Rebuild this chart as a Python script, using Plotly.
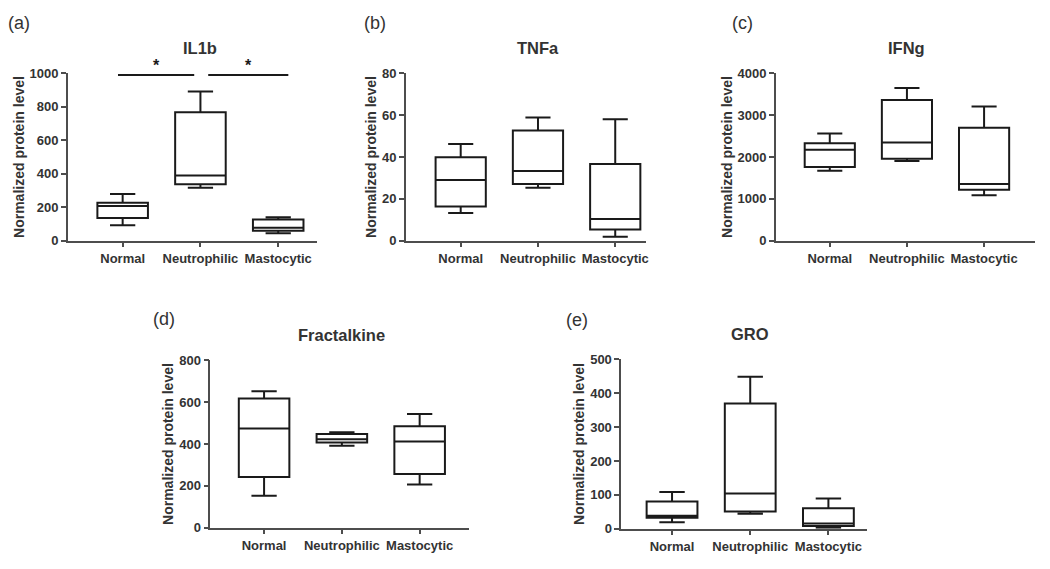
import plotly.graph_objects as go

# the page keeps its 8px body margin, so the figure is 16px smaller than the window
PAD = 8
W, H = 1050 - 2 * PAD, 569 - 2 * PAD

categories = ["Normal", "Neutrophilic", "Mastocytic"]

# box statistics: lower whisker, q1, median, q3, upper whisker
il1b_low = [93, 316, 45]
il1b_q1 = [136, 337, 60]
il1b_med = [207, 390, 78]
il1b_q3 = [227, 767, 126]
il1b_high = [279, 892, 140]

tnfa_low = [13.2, 25.3, 1.9]
tnfa_q1 = [16.3, 27.1, 5.4]
tnfa_med = [29.0, 33.3, 10.4]
tnfa_q3 = [39.9, 52.7, 36.7]
tnfa_high = [46.2, 58.9, 58.1]

ifng_low = [1670, 1903, 1088]
ifng_q1 = [1764, 1957, 1218]
ifng_med = [2174, 2346, 1358]
ifng_q3 = [2330, 3362, 2702]
ifng_high = [2563, 3651, 3208]

fkn_low = [153, 392, 206]
fkn_q1 = [242, 407, 257]
fkn_med = [474, 423, 412]
fkn_q3 = [618, 448, 485]
fkn_high = [652, 456, 544]

gro_low = [19, 44, 3]
gro_q1 = [32, 51, 8]
gro_med = [38, 104, 15]
gro_q3 = [80, 370, 60]
gro_high = [108, 449, 89]

titles = ["IL1b", "TNFa", "IFNg", "Fractalkine", "GRO"]
letters = ["(a)", "(b)", "(c)", "(d)", "(e)"]
y_max = [1000, 80, 4000, 800, 500]
y_step = [200, 20, 1000, 200, 100]

# IL1b significance: pairs compared and the bar height
sig_pairs = [(0, 1), (1, 2)]
sig_level = 990

stats = [
    (il1b_low, il1b_q1, il1b_med, il1b_q3, il1b_high),
    (tnfa_low, tnfa_q1, tnfa_med, tnfa_q3, tnfa_high),
    (ifng_low, ifng_q1, ifng_med, ifng_q3, ifng_high),
    (fkn_low, fkn_q1, fkn_med, fkn_q3, fkn_high),
    (gro_low, gro_q1, gro_med, gro_q3, gro_high),
]

# panel placement in window pixels: x0, x1, y_top, y_bottom, x range
panels = [
    (68, 318, 68, 240, [-0.705, 2.5]),
    (407, 648, 68, 240, [-0.71, 2.4]),
    (778, 1038, 68, 240, [-0.70, 2.66]),
    (211, 470, 363, 535, [-0.69, 2.63]),
    (623, 870, 362, 536, [-0.65, 2.5]),
]


def px(x):
    return (x - PAD) / W


def py(y):
    return 1 - (y - PAD) / H


FONT = "Arial, Liberation Sans, sans-serif"
TXT = "#333333"
AX = "#4d4d4d"

fig = go.Figure()
layout = dict(
    width=W, height=H,
    margin=dict(l=0, r=0, t=0, b=0),
    paper_bgcolor="white", plot_bgcolor="white",
    showlegend=False,
    font=dict(family=FONT, color=TXT),
    annotations=[], shapes=[],
)

for i, (lo, q1, med, q3, hi) in enumerate(stats):
    n = "" if i == 0 else str(i + 1)
    x0, x1, yt, yb, xr = panels[i]
    fig.add_trace(go.Box(
        x=categories, q1=q1, median=med, q3=q3,
        lowerfence=lo, upperfence=hi,
        xaxis="x" + n, yaxis="y" + n,
        width=0.65, whiskerwidth=0.5,
        fillcolor="white",
        line=dict(color="#1a1a1a", width=2),
        boxpoints=False, hoverinfo="skip",
    ))
    layout["xaxis" + n] = dict(
        domain=[px(x0), px(x1)], anchor="y" + n,
        type="category", range=xr,
        showline=True, linecolor=AX, linewidth=1.5,
        ticks="outside", ticklen=5, tickwidth=1.5, tickcolor=AX,
        showgrid=False, zeroline=False,
        tickfont=dict(family=FONT, size=13, color=TXT, weight="bold"),
    )
    layout["yaxis" + n] = dict(
        domain=[py(yb), py(yt)], anchor="x" + n,
        range=[0, y_max[i]], dtick=y_step[i], tick0=0,
        showline=True, linecolor=AX, linewidth=1.5,
        ticks="outside", ticklen=5, tickwidth=1.5, tickcolor=AX,
        showgrid=False, zeroline=False,
        tickfont=dict(family=FONT, size=13, color=TXT, weight="bold"),
        title=dict(text="Normalized protein level", standoff=2,
                   font=dict(family=FONT, size=14, color=TXT, weight="bold")),
    )
    # panel title, centred over the middle category
    layout["annotations"].append(dict(
        text="<b>" + titles[i] + "</b>", xref="x" + n + " domain", yref="paper",
        x=(1 - xr[0]) / (xr[1] - xr[0]),
        y=py(yt - 26), showarrow=False,
        font=dict(family=FONT, size=16.5, color=TXT),
        xanchor="center", yanchor="middle",
    ))

# panel letters
letter_pos = [(19, 16), (376, 16), (745, 16), (164, 320), (579, 322)]
for (lx, ly), t in zip(letter_pos, letters):
    layout["annotations"].append(dict(
        text=t, xref="paper", yref="paper", x=px(lx), y=py(ly),
        showarrow=False, font=dict(family=FONT, size=18, color=TXT),
        xanchor="center", yanchor="middle",
    ))

# significance bars on IL1b
for a, b in sig_pairs:
    xa = a - 0.06 if a == 0 else a + 0.1
    xb = b - 0.08 if b == 1 else b + 0.13
    layout["shapes"].append(dict(
        type="line", xref="x", yref="y",
        x0=xa, x1=xb, y0=sig_level, y1=sig_level,
        line=dict(color="#1a1a1a", width=2),
    ))
    layout["annotations"].append(dict(
        text="<b>*</b>", xref="x", yref="paper",
        x=(xa + xb) / 2, y=py(60), showarrow=False,
        font=dict(family=FONT, size=16, color="#1a1a1a"),
        xanchor="center", yanchor="middle",
    ))

fig.update_layout(**layout)
fig.write_html("out.html", config={"displayModeBar": False})
